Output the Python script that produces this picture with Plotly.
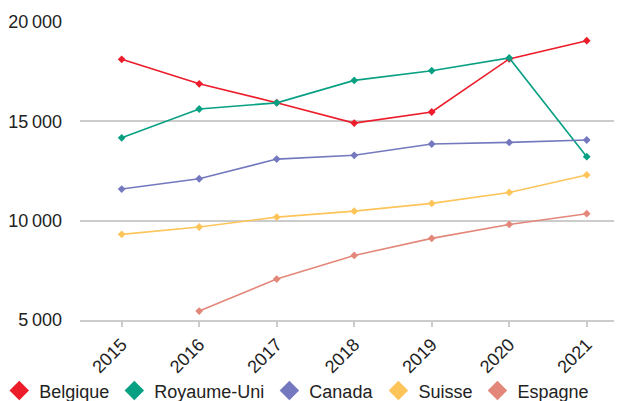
import plotly.graph_objects as go

years = [2015, 2016, 2017, 2018, 2019, 2020, 2021]
belgique = [18120, 16890, 15940, 14910, 15470, 18140, 19060]
royaume_uni = [14170, 15620, 15930, 17060, 17550, 18190, 13220]
canada = [11590, 12110, 13100, 13290, 13860, 13940, 14060]
suisse = [9310, 9680, 10180, 10480, 10870, 11420, 12300]
espagne = [None, 5450, 7060, 8250, 9110, 9810, 10350]

series = [
    ("Belgique", belgique, "#ec1c2a"),
    ("Royaume-Uni", royaume_uni, "#08a083"),
    ("Canada", canada, "#7479bf"),
    ("Suisse", suisse, "#fdc45a"),
    ("Espagne", espagne, "#e3877a"),
]

y_ticks = [5000, 10000, 15000, 20000]
y_tick_labels = ["5\u2009000", "10\u2009000", "15\u2009000", "20\u2009000"]

FONT = "Liberation Sans"

fig = go.Figure()
for name, vals, color in series:
    fig.add_trace(go.Scatter(
        x=years, y=vals, mode="lines+markers", name=name,
        line=dict(color=color, width=1.6),
        marker=dict(symbol="diamond", size=6, color=color),
        showlegend=False,
    ))
for name, vals, color in series:
    fig.add_trace(go.Scatter(
        x=[None], y=[None], mode="markers", name=name,
        marker=dict(symbol="diamond", size=15, color=color),
        showlegend=True,
    ))

fig.update_layout(
    width=614, height=393,
    margin=dict(l=72, r=0, t=14, b=81, autoexpand=False),
    paper_bgcolor="white", plot_bgcolor="white",
    font=dict(family=FONT, size=18, color="#222222"),
    legend=dict(
        orientation="h", xref="paper", yref="paper",
        x=-0.149, xanchor="left", y=-0.238, yanchor="middle",
        font=dict(size=18), itemwidth=30, tracegroupgap=0,
        bgcolor="rgba(0,0,0,0)", itemclick=False,
    ),
    xaxis=dict(
        range=[2014.462, 2021.455], tickvals=years,
        tickangle=-45, showgrid=False, zeroline=False, automargin=False,
        showline=True, linecolor="#cccccc", linewidth=2,
        ticks="outside", ticklen=5, tickcolor="#cccccc", tickwidth=1.5,
        tickfont=dict(size=18, color="#222222"),
    ),
    yaxis=dict(
        range=[5000, 20000], tickvals=y_ticks, ticktext=y_tick_labels,
        showgrid=True, gridcolor="#cccccc", gridwidth=1.5, automargin=False,
        zeroline=False, showline=False, ticks="",
        ticklabelstandoff=17,
        tickfont=dict(size=18, color="#222222"),
    ),
)

fig.write_html("out.html")
